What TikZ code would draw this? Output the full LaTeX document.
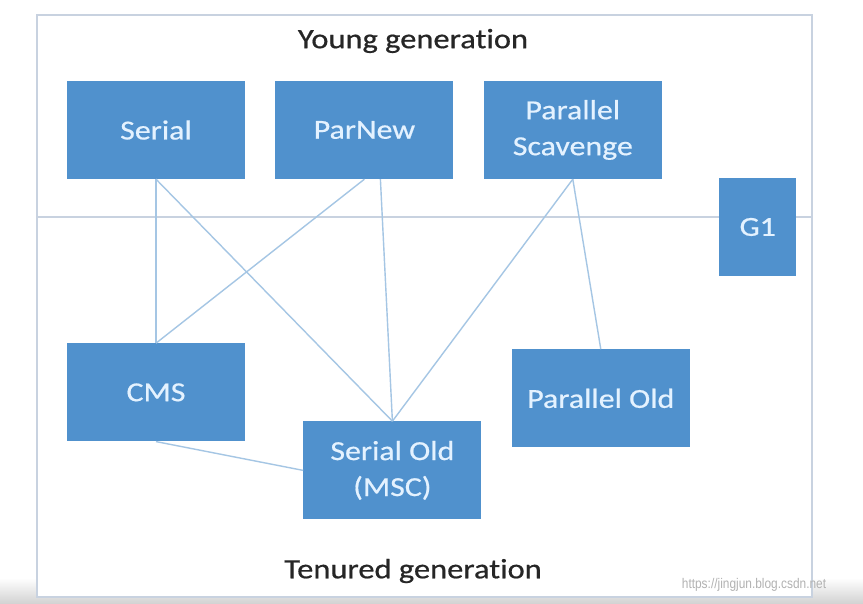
\documentclass[tikz,border=0pt]{standalone}
\usepackage{fontspec}
\setmainfont{Carlito}
\newfontfamily\gcfont{Carlito}[FakeStretch=1.16, FakeBold=0.6, Ligatures=NoCommon]
\newfontfamily\markfont{Liberation Sans}[FakeStretch=0.85]
\usetikzlibrary{positioning}
\definecolor{boxblue}{RGB}{80,145,205}
\definecolor{boxtext}{RGB}{228,242,255}
\definecolor{linkblue}{RGB}{165,198,228}
\definecolor{framegray}{RGB}{200,210,224}

\tikzset{
    gcbox/.style={fill=boxblue, draw=none, minimum width=178pt, minimum height=98pt,
        text=boxtext, font=\gcfont\fontsize{27.5}{36}\selectfont, align=center, inner sep=0pt},
    genlabel/.style={text=black!85, font=\gcfont\fontsize{28}{30}\selectfont},
    link/.style={draw=linkblue, line width=1.4pt},
}

\begin{document}
\begin{tikzpicture}[x=1pt, y=1pt, node distance=30pt]
    \useasboundingbox (0,0) rectangle (863,604);
    \shade[top color=white, bottom color=black!18] (0,0) rectangle (863,26);
    \fill[white] (37,7) rectangle (812,589);
    \draw[framegray, line width=2pt] (37,7) rectangle (812,589);
    \coordinate (sepL) at (37,387);
    \coordinate (sepR) at (812,387);
    \draw[framegray, line width=1.4pt] (sepL) -- (sepR);

    \node[genlabel] (young) at (413,563) {Young generation};
    \node[genlabel] (tenured) at (413,33) {Tenured generation};

    \node[gcbox] (serial) at (156,474) {Serial};
    \node[gcbox, right=of serial] (parnew) {ParNew};
    \node[gcbox, right=of parnew] (scavenge) {Parallel\\Scavenge};
    \node[gcbox, minimum width=77pt, right=of scavenge, xshift=27pt, yshift=-97pt] (gone) {G1};
    \node[gcbox, below=164pt of serial] (cms) {CMS};
    \node[gcbox, right=58pt of cms, yshift=-78pt] (serialold) {Serial Old\\(MSC)};
    \node[gcbox, right=30pt of serialold, yshift=72pt] (parold) {Parallel Old};

    \draw[link] (serial.south) -- (cms.north);
    \draw[link] (serial.south) -- (serialold.north);
    \draw[link] (parnew.south) -- (cms.north);
    \draw[link] ([xshift=16pt]parnew.south) -- (serialold.north);
    \draw[link] (scavenge.south) -- (serialold.north);
    \draw[link] (scavenge.south) -- (parold.north);
    \draw[link] (cms.south) -- (serialold.west);

    \node[text=black!30, font=\markfont\fontsize{14}{15}\selectfont] (mark) at (754,19) {https://jingjun.blog.csdn.net};
\end{tikzpicture}
\end{document}
